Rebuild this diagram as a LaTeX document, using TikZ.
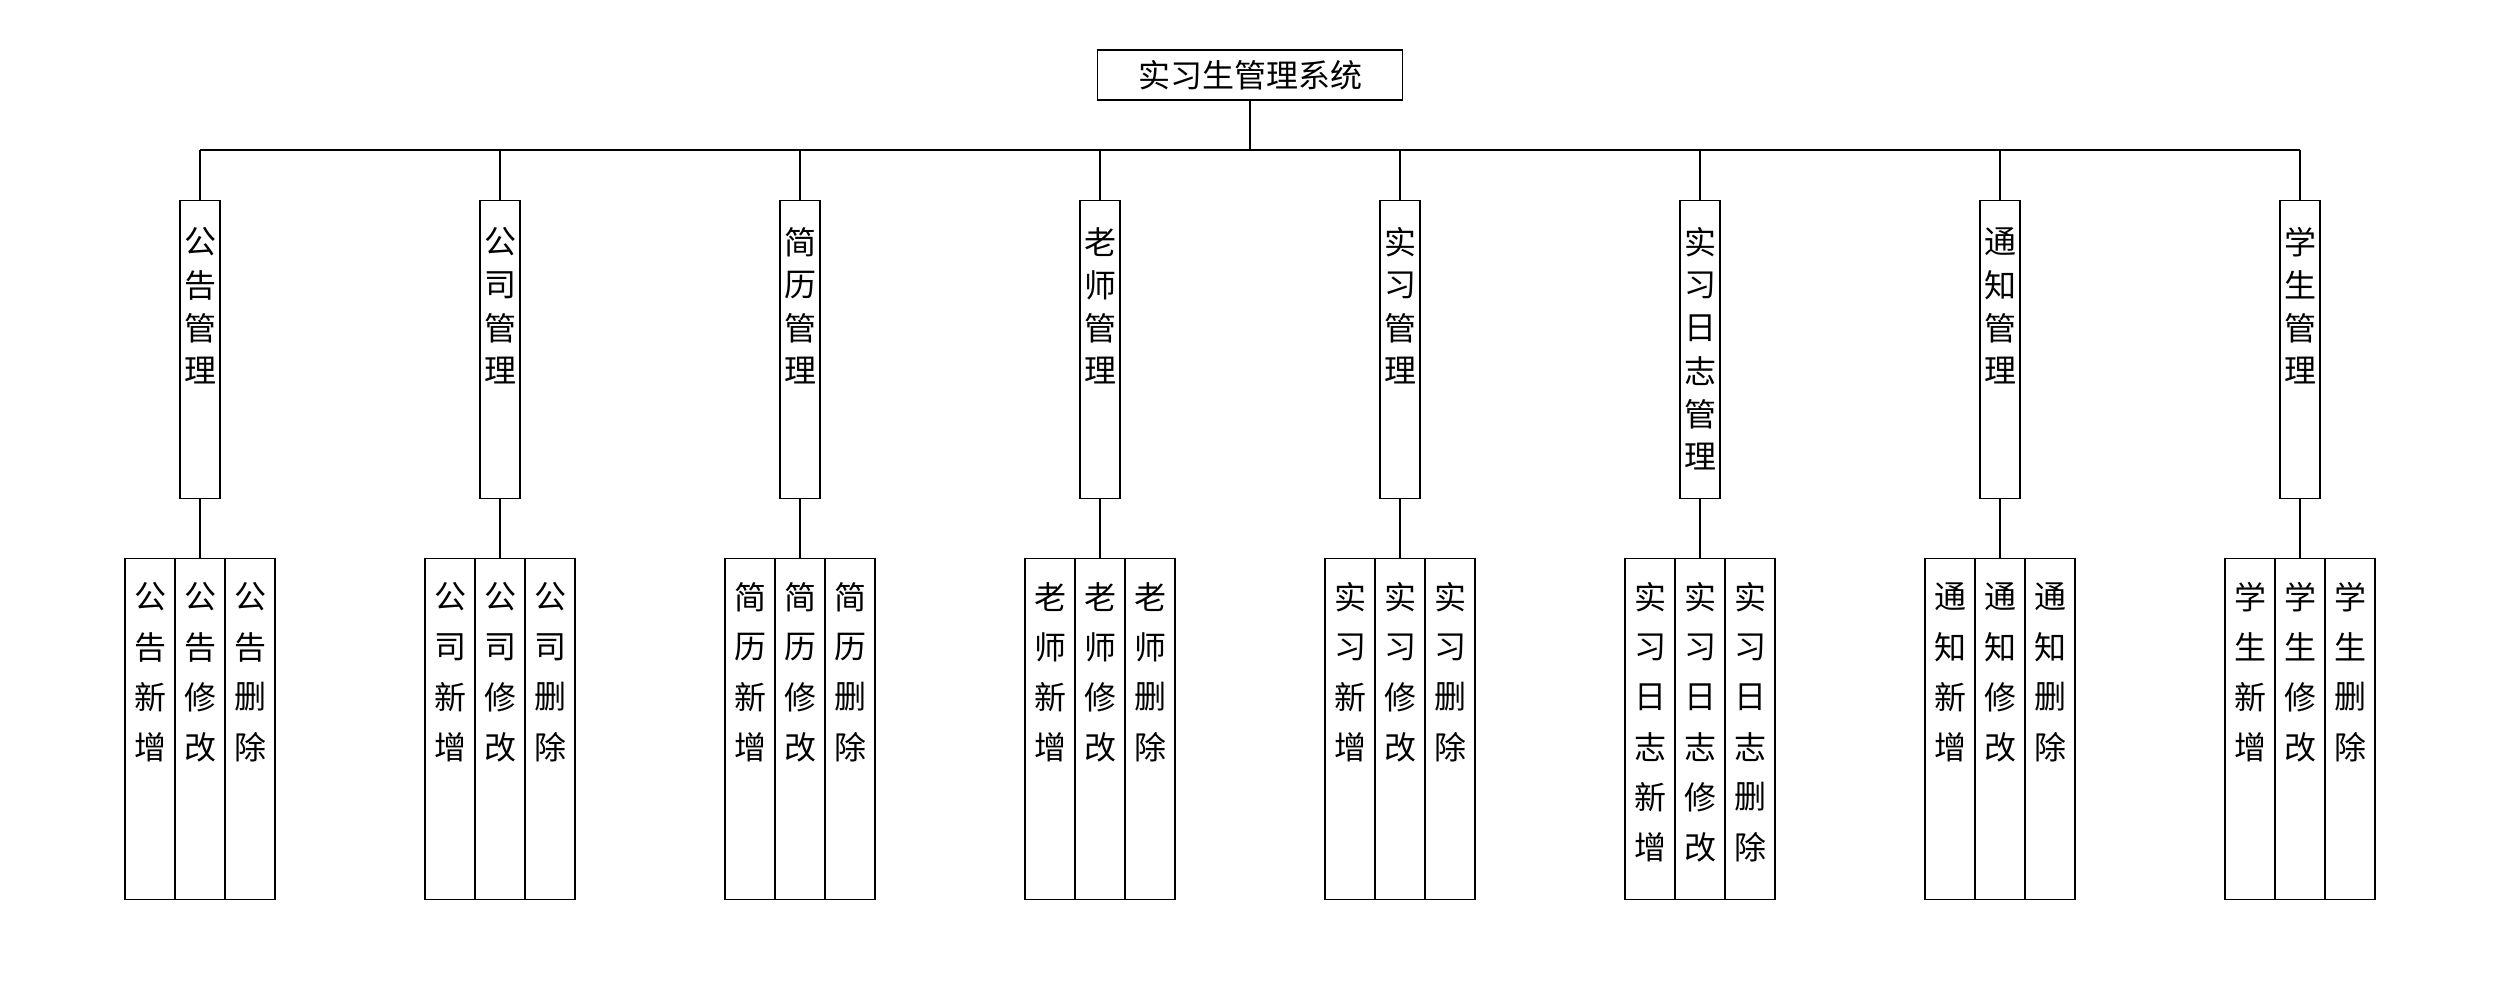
\documentclass[tikz,border=0pt]{standalone}
\usepackage{fontspec}
\newfontfamily\cjk{Noto Sans CJK SC}
\tikzset{
  box/.style={draw, line width=0.6pt, inner sep=0pt},
  rootbox/.style={box, minimum width=152.5pt, minimum height=25pt, font=\cjk\fontsize{16}{16}\selectfont},
  midbox/.style={box, minimum width=20pt, minimum height=149pt, anchor=north},
  leafbox/.style={box, minimum width=25pt, minimum height=170.5pt, anchor=north},
  ch/.style={inner sep=0pt, font=\cjk\fontsize{16}{16}\selectfont},
  wire/.style={line width=0.6pt}
}
\begin{document}
\begin{tikzpicture}[x=0.5pt,y=-0.5pt]
\useasboundingbox (0,0) rectangle (2500,1000);
\node[rootbox] (root) at (1250,75) {实习生管理系统};
\foreach \p [count=\i] in {{公,告},{公,司},{简,历},{老,师},{实,习},{实,习,日,志},{通,知},{学,生}} {
  \pgfmathsetmacro\xx{200+300*(\i-1)}
  \coordinate (bus\i) at (\xx,150);
  \node[midbox] (m\i) at (\xx,200) {};
  \edef\full{\p,管,理}
  \foreach \c [count=\k] in \full {
    \node[ch] (t\i-\k) at (\xx,{242+43*(\k-1)}) {\c};
  }
  \foreach \s [count=\j] in {{新,增},{修,改},{删,除}} {
    \pgfmathsetmacro\lx{\xx+50*(\j-2)}
    \node[leafbox] (l\i-\j) at (\lx,558) {};
    \edef\lf{\p,\s}
    \foreach \c [count=\k] in \lf {
      \node[ch] (u\i-\j-\k) at (\lx,{597+50*(\k-1)}) {\c};
    }
  }
  \draw[wire] (m\i.north) -- (bus\i);
  \draw[wire] (m\i.south) -- (l\i-2.north);
}
\draw[wire] (bus1) -- (bus8);
\draw[wire] (root.south) -- (root.south |- bus1);
\end{tikzpicture}
\end{document}
